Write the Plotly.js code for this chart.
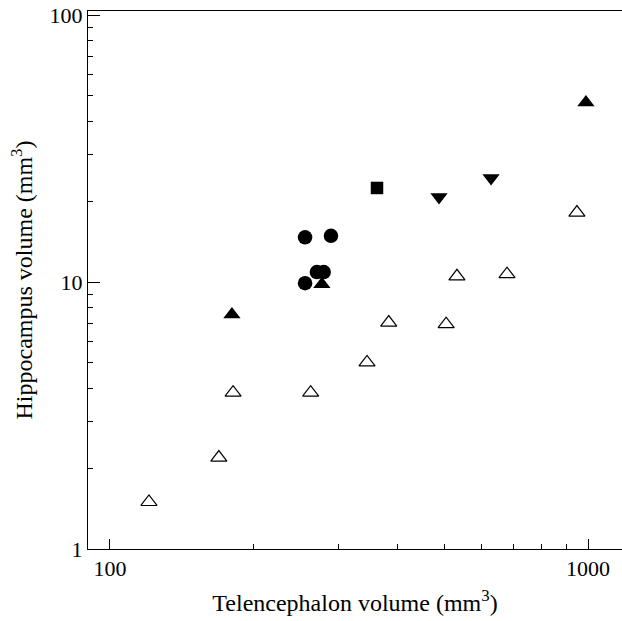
<!DOCTYPE html>
<html>
<head>
<meta charset="utf-8">
<script src="https://cdn.plot.ly/plotly-3.0.1.min.js"></script>
<style>
html,body{margin:0;padding:0;background:#fff;}
#chart{width:622px;height:621px;}
</style>
</head>
<body>
<div id="chart"></div>
<script>
// Open triangles
const openTriX = [120.7, 169, 181, 263, 345, 383, 505, 532, 677, 948];
const openTriY = [1.5, 2.2, 3.85, 3.85, 5.0, 7.05, 6.95, 10.5, 10.7, 18.2];
// Filled up-triangles
const fillTriX = [180, 277.6, 990];
const fillTriY = [7.55, 9.8, 47];
// Filled circles
const circX = [256, 290, 256, 271, 280];
const circY = [14.7, 14.9, 9.9, 10.9, 10.9];
// Filled square
const sqX = [362];
const sqY = [22.5];
// Filled down-triangles
const downX = [488, 627];
const downY = [20.8, 24.5];

const xTitle = 'Telencephalon volume (mm<sup>3</sup>)';
const yTitle = 'Hippocampus volume (mm<sup>3</sup>)';
const xTickVals = [100, 1000];
const xTickText = ['100', '1000'];
const yTickVals = [1, 10, 100];
const yTickText = ['1', '10', '100'];

const FONT = 'Liberation Serif';

const traces = [
  {x: openTriX, y: openTriY, type: 'scatter', mode: 'markers',
   marker: {symbol: 'triangle-up-open', size: 14, color: 'black', line: {width: 1.2, color: 'black'}}},
  {x: fillTriX, y: fillTriY, type: 'scatter', mode: 'markers',
   marker: {symbol: 'triangle-up', size: 15, color: 'black'}},
  {x: circX, y: circY, type: 'scatter', mode: 'markers',
   marker: {symbol: 'circle', size: 14.5, color: 'black'}},
  {x: sqX, y: sqY, type: 'scatter', mode: 'markers',
   marker: {symbol: 'square', size: 12.5, color: 'black'}},
  {x: downX, y: downY, type: 'scatter', mode: 'markers',
   marker: {symbol: 'triangle-down', size: 15, color: 'black'}}
];

const layout = {
  width: 622, height: 621,
  margin: {l: 88, r: 0, t: 11, b: 72},
  paper_bgcolor: 'white', plot_bgcolor: 'white',
  showlegend: false,
  font: {family: FONT, color: 'black', size: 22},
  xaxis: {
    type: 'log',
    range: [Math.log10(90), 3.0711],
    tickmode: 'array',
    tickvals: xTickVals, ticktext: xTickText,
    ticks: 'inside', ticklen: 10, tickwidth: 1, tickcolor: 'black',
    showline: true, linecolor: 'black', linewidth: 1, mirror: true,
    showgrid: false, zeroline: false,
    tickfont: {family: FONT, size: 22, color: 'black'},
    minor: {ticks: 'inside', ticklen: 5, tickcolor: 'black', tickwidth: 1, showgrid: false, dtick: 'D1'},
    title: {text: xTitle, font: {family: FONT, size: 24, color: 'black'}, standoff: 13}
  },
  yaxis: {
    type: 'log',
    range: [0, 2.015],
    tickmode: 'array',
    tickvals: yTickVals, ticktext: yTickText,
    ticks: 'inside', ticklen: 12, tickwidth: 1, tickcolor: 'black',
    showline: true, linecolor: 'black', linewidth: 1, mirror: false,
    showgrid: false, zeroline: false,
    tickfont: {family: FONT, size: 22, color: 'black'},
    minor: {ticks: 'inside', ticklen: 5, tickcolor: 'black', tickwidth: 1, showgrid: false, dtick: 'D1'},
    title: {text: yTitle, font: {family: FONT, size: 24, color: 'black'}, standoff: 10}
  }
};

Plotly.newPlot('chart', traces, layout, {displayModeBar: false, staticPlot: true});
</script>
</body>
</html>
